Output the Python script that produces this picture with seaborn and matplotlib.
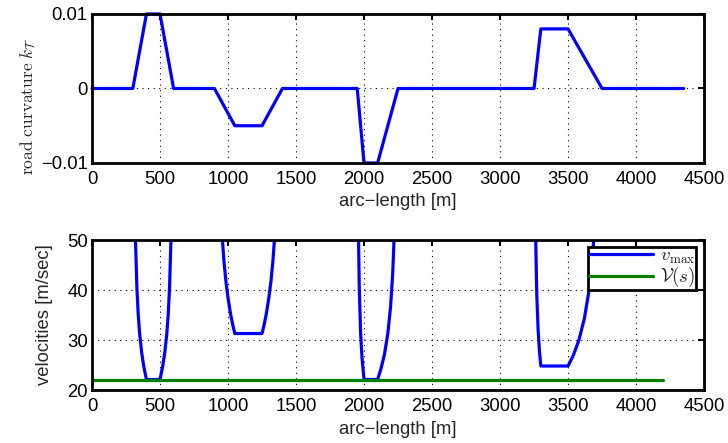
import numpy as np
import pandas as pd
import seaborn as sns
import matplotlib.pyplot as plt
from matplotlib.lines import Line2D

# road curvature breakpoints (arc-length [m], curvature)
curv_s = [0, 300, 400, 500, 600, 900, 1050, 1250, 1400, 1950, 2000, 2100, 2250,
          3250, 3300, 3500, 3750, 4350]
curv_k = [0, 0, 0.01, 0.01, 0, 0, -0.005, -0.005, 0, 0, -0.01, -0.01, 0,
          0, 0.008, 0.008, 0, 0]

# v_max dips
dip1_s = [319.6, 330, 340, 350, 365, 380, 400, 500, 520, 535, 550, 560, 570, 580.4]
dip1_v = [50, 40.4, 35.0, 31.3, 27.5, 24.8, 22.1, 22.1, 24.8, 27.5, 31.3, 35.0, 40.4, 50]
dip2_s = [958.9, 970, 985, 1000, 1020, 1035, 1050, 1250, 1265, 1280, 1300, 1315, 1330, 1341.1]
dip2_v = [50, 45.8, 41.6, 38.4, 35.0, 33.0, 31.3, 31.3, 33.0, 35.0, 38.4, 41.6, 45.8, 50]
dip3_s = [1959.8, 1965, 1975, 1985, 2000, 2100, 2125, 2150, 2175, 2195, 2210, 2220.6]
dip3_v = [50, 40.4, 31.3, 26.5, 22.1, 22.1, 24.3, 27.1, 31.3, 36.6, 42.9, 50]
dip4_s = [3262.3, 3270, 3280, 3290, 3300, 3500, 3540, 3580, 3620, 3650, 3675, 3688.7]
dip4_v = [50, 39.2, 32.0, 27.7, 24.8, 24.8, 27.0, 30.0, 34.3, 39.2, 45.2, 50]

# reference velocity profile V(s)
ref_s = [0, 4200]
ref_v = [22.1, 22.1]

sns.set_theme(style="white")
plt.rcParams['font.family'] = ['Liberation Sans', 'DejaVu Sans']
plt.rcParams['mathtext.fontset'] = 'cm'
plt.rcParams['axes.unicode_minus'] = True

curv = pd.DataFrame({'s': curv_s, 'k': curv_k})
vmax = pd.concat([
    pd.DataFrame({'s': dip1_s, 'v': dip1_v, 'seg': 1}),
    pd.DataFrame({'s': dip2_s, 'v': dip2_v, 'seg': 2}),
    pd.DataFrame({'s': dip3_s, 'v': dip3_v, 'seg': 3}),
    pd.DataFrame({'s': dip4_s, 'v': dip4_v, 'seg': 4}),
])
ref = pd.DataFrame({'s': ref_s, 'v': ref_v})

fig = plt.figure(figsize=(7.28, 4.43), dpi=100)
ax1 = fig.add_axes([0.1264, 0.6321, 0.8407, 0.3363])
ax2 = fig.add_axes([0.1264, 0.1196, 0.8407, 0.3386])

fs = 13.3
lw = 2.3

# top panel: curvature
sns.lineplot(data=curv, x='s', y='k', ax=ax1, color='#0000ff', linewidth=lw,
             estimator=None, sort=False, clip_on=False)
ax1.set_xlim(0, 4500)
ax1.set_ylim(-0.01, 0.01)
ax1.set_yticks([-0.01, 0, 0.01])
ax1.set_yticklabels(['\u22120.01', '0', '0.01'])
ax1.set_xlabel('arc\u2212length [m]', fontsize=fs, labelpad=3.5)
ax1.set_ylabel(r'$\mathrm{road\ curvature}\ k_{\mathcal{T}}$', fontsize=fs - 0.8)
ax1.yaxis.set_label_coords(-0.088, 0.38)

# bottom panel: velocities
sns.lineplot(data=vmax, x='s', y='v', units='seg', estimator=None, sort=False,
             ax=ax2, color='#0000ff', linewidth=lw)
sns.lineplot(data=ref, x='s', y='v', ax=ax2, color='#008000', linewidth=lw,
             estimator=None)
ax2.set_xlim(0, 4500)
ax2.set_ylim(20, 50)
ax2.set_yticks([20, 30, 40, 50])
ax2.set_xlabel('arc\u2212length [m]', fontsize=fs, labelpad=4)
ax2.set_ylabel('velocities [m/sec]', fontsize=fs)
ax2.yaxis.set_label_coords(-0.064, 0.5)

handles = [Line2D([], [], color='#0000ff', linewidth=lw),
           Line2D([], [], color='#008000', linewidth=lw)]
leg = ax2.legend(handles, [r'$v_{\max}$', r'$\mathcal{V}(s)$'], loc='upper right',
                 bbox_to_anchor=(0.987, 0.955), fontsize=fs + 0.3, frameon=True,
                 fancybox=False, framealpha=1, handlelength=3.4, handletextpad=0.35,
                 borderpad=0.05, labelspacing=-0.05, borderaxespad=0)
leg.get_frame().set_edgecolor('black')
leg.get_frame().set_linewidth(2.0)

for ax in (ax1, ax2):
    ax.set_xticks(range(0, 4501, 500))
    ax.grid(True, color='black', linestyle=(0, (1, 4)), linewidth=0.8)
    ax.tick_params(axis='x', pad=6)
    ax.tick_params(axis='y', pad=3)
    ax.tick_params(direction='in', length=4, width=1.5, top=True, right=True,
                   labelsize=fs, colors='black')
    for sp in ax.spines.values():
        sp.set_color('black')
        sp.set_linewidth(2.0)
    ax.set_axisbelow(True)

fig.savefig('out.png', dpi=100)
